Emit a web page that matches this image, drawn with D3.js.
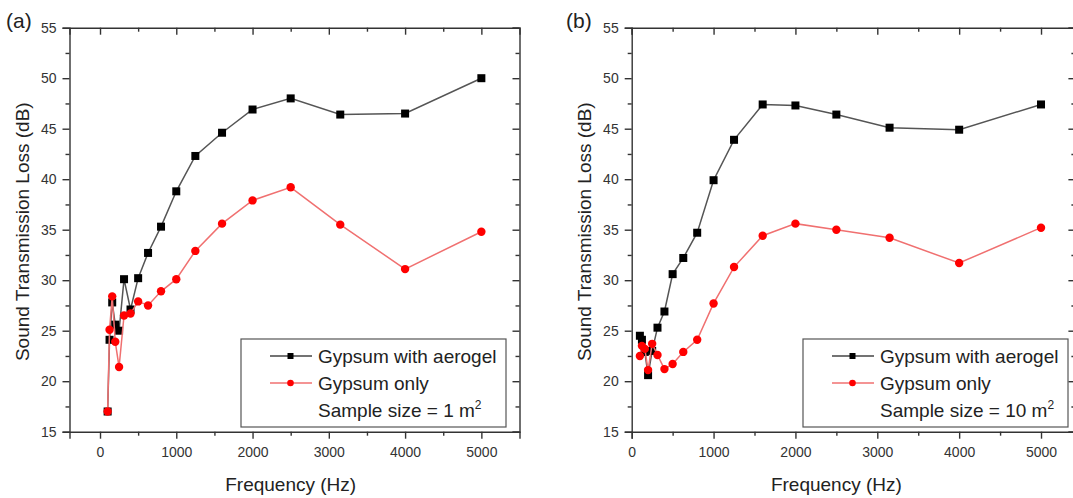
<!DOCTYPE html>
<html lang="en">
<head>
<meta charset="UTF-8">
<title>Sound Transmission Loss</title>
<style>
    body { margin: 0; background: #fff; overflow: hidden; }
    svg { display: block; font-family: Arial, "Liberation Sans", sans-serif; }
    .tick text { font-size: 14px; fill: #333; }
    .domain, .tick line { stroke: #333; stroke-width: 1.4; }
</style>
</head>
<body>
<svg id="chart" width="1073" height="498"></svg>
<script src="https://d3js.org/d3.v7.min.js"></script>
<script>
// 1/3 octave band centre frequencies (Hz)
const freqs = [100, 125, 160, 200, 250, 315, 400, 500, 630, 800, 1000, 1250, 1600, 2000, 2500, 3150, 4000, 5000];

// (a) sample size 1 m2
const aerogelSmall = [17.0, 24.1, 27.8, 25.6, 25.0, 30.1, 27.1, 30.2, 32.7, 35.3, 38.8, 42.3, 44.6, 46.9, 48.0, 46.4, 46.5, 50.0];
const gypsumSmall  = [17.0, 25.1, 28.4, 23.9, 21.4, 26.5, 26.7, 27.9, 27.5, 28.9, 30.1, 32.9, 35.6, 37.9, 39.2, 35.5, 31.1, 34.8];

// (b) sample size 10 m2
const aerogelLarge = [24.5, 24.1, 22.9, 20.6, 23.0, 25.3, 26.9, 30.6, 32.2, 34.7, 39.9, 43.9, 47.4, 47.3, 46.4, 45.1, 44.9, 47.4];
const gypsumLarge  = [22.5, 23.5, 23.2, 21.1, 23.7, 22.6, 21.2, 21.7, 22.9, 24.1, 27.7, 31.3, 34.4, 35.6, 35.0, 34.2, 31.7, 35.2];

const xTicks = [0, 1000, 2000, 3000, 4000, 5000];
const xMinor = [-500, 500, 1500, 2500, 3500, 4500, 5500];
const yTicks = [15, 20, 25, 30, 35, 40, 45, 50, 55];
const yMinor = [17.5, 22.5, 27.5, 32.5, 37.5, 42.5, 47.5, 52.5];

const seriesNames = ["Gypsum with aerogel", "Gypsum only"];

const panels = [
    { tag: "(a)", size: "1", aerogel: aerogelSmall, gypsum: gypsumSmall,
      xDomain: [-400, 5500], xRange: [69.5, 519.5], legendX: 241, tagX: 6 },
    { tag: "(b)", size: "10", aerogel: aerogelLarge, gypsum: gypsumLarge,
      xDomain: [0, 5420], xRange: [631.7, 1075.4], legendX: 803, tagX: 566 }
];

const plotTop = 27.7, plotBottom = 431.7;
const svg = d3.select("#chart");

panels.forEach(p => {
    const x = d3.scaleLinear().domain(p.xDomain).range(p.xRange);
    const y = d3.scaleLinear().domain([15, 55]).range([plotBottom, plotTop]);
    const [x0, x1] = p.xRange;
    const g = svg.append("g");

    const minorX = xMinor.filter(v => v > p.xDomain[0] && v < p.xDomain[1]);
    const majorX = xTicks.filter(v => v >= p.xDomain[0] && v <= p.xDomain[1]);

    // bottom axis, ticks outward
    g.append("g").attr("transform", `translate(0,${plotBottom})`)
        .call(d3.axisBottom(x).tickValues(majorX).tickSize(7).tickPadding(8).tickFormat(d3.format("d")));
    g.append("g").attr("transform", `translate(0,${plotBottom})`)
        .call(d3.axisBottom(x).tickValues(minorX).tickSize(4).tickFormat(""))
        .select(".domain").remove();

    // top axis, ticks inward
    g.append("g").attr("transform", `translate(0,${plotTop})`)
        .call(d3.axisTop(x).tickValues(majorX).tickSize(-7).tickFormat(""));
    g.append("g").attr("transform", `translate(0,${plotTop})`)
        .call(d3.axisTop(x).tickValues(minorX).tickSize(-4).tickFormat(""))
        .select(".domain").remove();

    // left axis, ticks outward
    g.append("g").attr("transform", `translate(${x0},0)`)
        .call(d3.axisLeft(y).tickValues(yTicks).tickSize(7).tickPadding(6));
    g.append("g").attr("transform", `translate(${x0},0)`)
        .call(d3.axisLeft(y).tickValues(yMinor).tickSize(4).tickFormat(""))
        .select(".domain").remove();

    // right axis, ticks inward
    g.append("g").attr("transform", `translate(${x1},0)`)
        .call(d3.axisRight(y).tickValues(yTicks).tickSize(-7).tickFormat(""));
    g.append("g").attr("transform", `translate(${x1},0)`)
        .call(d3.axisRight(y).tickValues(yMinor).tickSize(-4).tickFormat(""))
        .select(".domain").remove();

    g.selectAll(".domain").attr("stroke-width", 1.6);

    // axis titles
    g.append("text")
        .attr("x", (x(0) + x(5000)) / 2)
        .attr("y", 491)
        .attr("text-anchor", "middle")
        .attr("font-size", 19)
        .attr("fill", "#222")
        .text("Frequency (Hz)");

    g.append("text")
        .attr("transform", `translate(${x0 - 41},${(plotTop + plotBottom) / 2 + 2}) rotate(-90)`)
        .attr("text-anchor", "middle")
        .attr("font-size", 19)
        .attr("fill", "#222")
        .text("Sound Transmission Loss (dB)");

    g.append("text")
        .attr("x", p.tagX)
        .attr("y", 28)
        .attr("font-size", 21)
        .attr("fill", "#222")
        .text(p.tag);

    // series
    const line = d3.line().x((d, i) => x(freqs[i])).y(d => y(d));
    const plot = g.append("g");

    plot.append("path").datum(p.aerogel)
        .attr("fill", "none").attr("stroke", "#555").attr("stroke-width", 1.5)
        .attr("d", line);
    plot.selectAll(".sq").data(p.aerogel).join("rect")
        .attr("x", (d, i) => x(freqs[i]) - 4)
        .attr("y", d => y(d) - 4)
        .attr("width", 8).attr("height", 8)
        .attr("fill", "#000");

    plot.append("path").datum(p.gypsum)
        .attr("fill", "none").attr("stroke", "#f07070").attr("stroke-width", 1.5)
        .attr("d", line);
    plot.selectAll(".dot").data(p.gypsum).join("circle")
        .attr("cx", (d, i) => x(freqs[i]))
        .attr("cy", d => y(d))
        .attr("r", 4.2)
        .attr("fill", "#f00");

    // legend
    const lg = g.append("g").attr("transform", `translate(${p.legendX},339)`);
    lg.append("rect")
        .attr("width", 265).attr("height", 88)
        .attr("fill", "#fff").attr("stroke", "#555").attr("stroke-width", 1.2);

    const rows = [
        { name: seriesNames[0], stroke: "#444", mark: "square" },
        { name: seriesNames[1], stroke: "#f07070", mark: "circle" }
    ];
    rows.forEach((r, i) => {
        const cy = 17 + i * 27;
        lg.append("line")
            .attr("x1", 29).attr("x2", 71).attr("y1", cy).attr("y2", cy)
            .attr("stroke", r.stroke).attr("stroke-width", 1.4);
        if (r.mark === "square") {
            lg.append("rect").attr("x", 46.5).attr("y", cy - 3).attr("width", 6).attr("height", 6).attr("fill", "#000");
        } else {
            lg.append("circle").attr("cx", 49.5).attr("cy", cy).attr("r", 3.3).attr("fill", "#f00");
        }
        lg.append("text")
            .attr("x", 77).attr("y", cy + 7)
            .attr("font-size", 19).attr("fill", "#222")
            .text(r.name);
    });
    const st = lg.append("text")
        .attr("x", 77).attr("y", 78)
        .attr("font-size", 19).attr("fill", "#222");
    st.append("tspan").text(`Sample size = ${p.size} m`);
    st.append("tspan").attr("font-size", 12).attr("dy", -8).text("2");
});
</script>
</body>
</html>
